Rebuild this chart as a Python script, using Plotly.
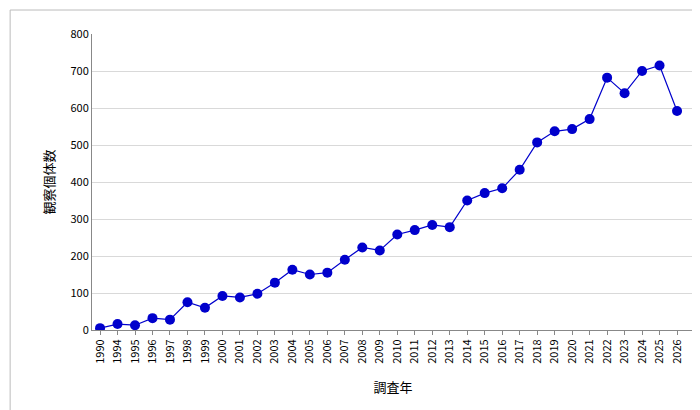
import plotly.graph_objects as go

years = ["1990"] + [str(y) for y in range(1994, 2027)]
counts = [5, 16, 13, 32, 28, 75, 60, 92, 88, 98, 128, 163, 150, 155, 190, 223, 215,
          258, 270, 284, 278, 350, 370, 383, 433, 507, 537, 543, 570, 682, 640, 700, 715, 592]

fig = go.Figure(go.Scatter(
    x=years, y=counts, mode="lines+markers",
    line=dict(color="#0000CC", width=1.2),
    marker=dict(color="#0000CC", size=10),
))
fig.update_layout(
    width=700, height=410, margin=dict(l=84, r=14, t=26, b=88, autoexpand=False),
    paper_bgcolor="white", plot_bgcolor="white", showlegend=False,
    font=dict(family="Noto Sans CJK JP", size=11, color="black"),
    shapes=[dict(type="rect", xref="paper", yref="paper", x0=-0.136, x1=1.017, y0=-0.284, y1=1.081,
                 line=dict(color="#BBBBBB", width=1))],
)
fig.update_xaxes(type="category", range=[-0.46, 33.97], automargin=False, tickangle=-90,
                 showline=True, linecolor="#888888",
                 ticks="outside", tickcolor="#888888", ticklen=4,
                 title=dict(text="調査年", font=dict(size=13), standoff=20))
fig.update_yaxes(range=[0, 800], dtick=100, automargin=False, showgrid=True, gridcolor="#D9D9D9",
                 showline=True, linecolor="#888888", zeroline=False,
                 title=dict(text="観察個体数", font=dict(size=13), standoff=12))
fig.write_html("out.html")
